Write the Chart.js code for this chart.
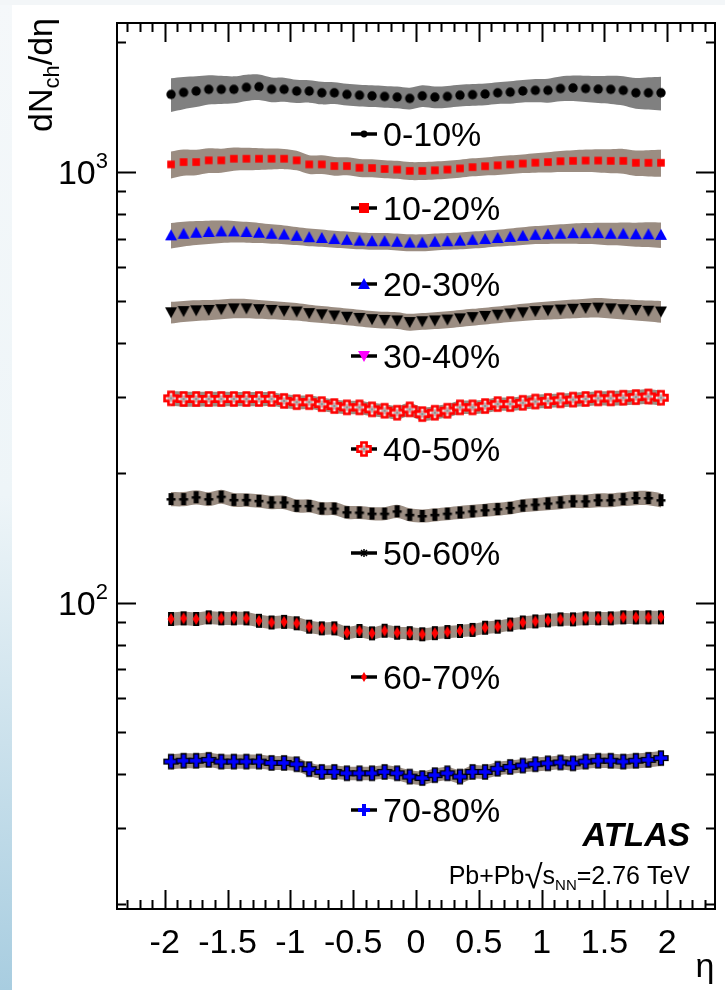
<!DOCTYPE html>
<html>
<head>
<meta charset="utf-8">
<script src="https://cdn.jsdelivr.net/npm/chart.js@4.4.1/dist/chart.umd.min.js"></script>
<style>
  html, body { margin: 0; padding: 0; background: #fff; }
  body { width: 725px; height: 990px; position: relative; overflow: hidden; }
  #strip { position: absolute; left: 0; top: 0; width: 12px; height: 990px;
           background: linear-gradient(#f5f8fa, #eef5f8 50%, #a8cde0); }
  #topstrip { position: absolute; left: 0; top: 0; width: 725px; height: 5px; background: #f3f6f8; }
  #chart { position: absolute; left: 0; top: 0; }
</style>
</head>
<body>
<div id="strip"></div>
<div id="topstrip"></div>
<canvas id="chart" width="725" height="990"></canvas>
<script>
// eta bin centres
const eta = [-1.95, -1.85, -1.75, -1.65, -1.55, -1.45, -1.35, -1.25, -1.15, -1.05,
             -0.95, -0.85, -0.75, -0.65, -0.55, -0.45, -0.35, -0.25, -0.15, -0.05,
              0.05,  0.15,  0.25,  0.35,  0.45,  0.55,  0.65,  0.75,  0.85,  0.95,
              1.05,  1.15,  1.25,  1.35,  1.45,  1.55,  1.65,  1.75,  1.85,  1.95];

// dNch/deta per centrality class
const dn0010 = [1512, 1528, 1539, 1553, 1553, 1553, 1570, 1575, 1553, 1553,
                1539, 1539, 1525, 1525, 1512, 1505, 1500, 1495, 1490, 1480,
                1500, 1490, 1495, 1505, 1510, 1515, 1525, 1530, 1540, 1545,
                1545, 1560, 1565, 1560, 1555, 1553, 1545, 1525, 1525, 1525];
const dn1020 = [1040, 1053, 1053, 1063, 1063, 1072, 1072, 1072, 1072, 1072,
                1063, 1040, 1040, 1031, 1031, 1022, 1020, 1015, 1012, 1005,
                1005, 1008, 1012, 1018, 1025, 1030, 1035, 1040, 1045, 1050,
                1053, 1058, 1060, 1062, 1062, 1060, 1060, 1049, 1049, 1049];
const dn2030 = [712, 718, 722, 725, 727, 727, 725, 722, 718, 715,
                710, 705, 702, 698, 695, 692, 690, 690, 688, 685,
                685, 688, 690, 692, 695, 698, 702, 706, 710, 714,
                716, 718, 720, 720, 720, 718, 718, 716, 716, 714];
const dn3040 = [472, 475, 477, 478, 480, 482, 482, 480, 478, 476,
                474, 470, 467, 464, 461, 458, 455, 453, 452, 448,
                450, 452, 454, 457, 460, 463, 466, 469, 472, 475,
                477, 479, 481, 483, 484, 482, 480, 478, 476, 474];
const dn4050 = [298, 297, 297, 297, 297, 297, 297, 297, 297, 294,
                292, 292, 289, 286, 284, 284, 281, 279, 276, 281,
                274, 276, 279, 284, 284, 286, 289, 289, 291, 293,
                294, 295, 296, 297, 298, 298, 299, 300, 301, 299];
const dn5060 = [174, 174, 175.7, 174, 176.3, 173.3, 173.3, 172.4, 171, 171,
                167.8, 167.8, 165.4, 165.4, 162.2, 162, 161, 161, 163, 160,
                159, 160, 161, 162, 163, 164, 165, 166, 168, 169,
                170, 171, 172, 172, 173, 173, 174, 175, 175, 173];
const dn6070 = [91.7, 92.0, 91.7, 92.5, 92.0, 92.0, 92.0, 90.8, 90.0, 90.3,
                89.6, 88.0, 87.2, 87.2, 85.2, 86.0, 84.9, 86.1, 85.2, 85.0,
                84.5, 85.0, 85.5, 86.0, 86.5, 87.5, 88.0, 89.0, 90.0, 90.5,
                91.0, 91.5, 91.5, 92.0, 92.0, 92.0, 92.5, 92.5, 92.5, 92.5];
const dn7080 = [42.8, 43.0, 43.0, 43.2, 42.8, 42.8, 42.8, 42.8, 42.5, 42.5,
                42.2, 41.1, 40.5, 40.5, 40.2, 40.2, 40.2, 40.5, 40.2, 39.5,
                39.2, 39.8, 40.2, 39.5, 40.5, 40.5, 41.2, 41.6, 41.9, 42.2,
                42.4, 42.6, 42.4, 42.8, 43.0, 43.0, 42.8, 43.0, 43.2, 43.6];

// relative systematic uncertainty vs |eta| (0.05 ... 1.95)
const sys0010 = [.058, .058, .058, .058, .058, .058, .058, .06, .06, .062, .064, .066, .068, .07, .072, .075, .078, .082, .086, .09];
const sys1020 = [.048, .048, .048, .048, .048, .048, .05, .05, .05, .052, .054, .056, .058, .06, .062, .064, .066, .068, .07, .072];
const sys2030 = [.045, .045, .045, .045, .045, .045, .045, .046, .047, .048, .05, .052, .054, .056, .058, .06, .062, .064, .066, .068];
const sys3040 = [.045, .045, .045, .045, .045, .045, .045, .045, .046, .047, .048, .049, .05, .051, .052, .053, .054, .055, .056, .058];
const sys4050 = [.036, .036, .036, .036, .036, .036, .036, .036, .036, .037, .037, .037, .038, .038, .038, .039, .039, .04, .04, .04];
const sys5060 = [.035, .035, .035, .035, .035, .035, .035, .035, .035, .035, .036, .036, .036, .036, .037, .037, .037, .038, .038, .038];
const sys6070 = [.033, .033, .033, .033, .033, .033, .033, .033, .033, .034, .034, .034, .034, .035, .035, .035, .035, .036, .036, .036];
const sys7080 = [.036, .036, .036, .036, .036, .036, .036, .036, .036, .037, .037, .037, .038, .038, .038, .039, .039, .04, .04, .04];

const centralityLabels = ['0-10%', '10-20%', '20-30%', '30-40%', '40-50%', '50-60%', '60-70%', '70-80%'];
const xMajorTicks = [-2, -1.5, -1, -0.5, 0, 0.5, 1, 1.5, 2];
const yMinorTicks = [20, 30, 40, 50, 60, 70, 80, 90, 100, 200, 300, 400, 500, 600, 700, 800, 900, 1000, 2000];
const yLabelTicks = [100, 1000];
const yLabelExp = ['2', '3'];

const FONT = '"Liberation Sans", Arial, Helvetica, sans-serif';

// marker painter, used for data points (as canvas point styles) and the legend
function paintMarker(ctx, kind, cx, cy) {
  ctx.save();
  function plus(a, t) {
    ctx.beginPath();
    ctx.moveTo(cx - t, cy - a); ctx.lineTo(cx + t, cy - a); ctx.lineTo(cx + t, cy - t);
    ctx.lineTo(cx + a, cy - t); ctx.lineTo(cx + a, cy + t); ctx.lineTo(cx + t, cy + t);
    ctx.lineTo(cx + t, cy + a); ctx.lineTo(cx - t, cy + a); ctx.lineTo(cx - t, cy + t);
    ctx.lineTo(cx - a, cy + t); ctx.lineTo(cx - a, cy - t); ctx.lineTo(cx - t, cy - t);
    ctx.closePath();
  }
  switch (kind) {
    case 'dot':
    case 'dotSmall':
      ctx.fillStyle = '#000';
      ctx.beginPath(); ctx.arc(cx, cy, kind === 'dot' ? 4.7 : 3.4, 0, Math.PI * 2); ctx.fill();
      break;
    case 'square':
      ctx.fillStyle = '#ff0000'; ctx.fillRect(cx - 3.8, cy - 3.8, 7.6, 7.6); break;
    case 'squareBig':
      ctx.fillStyle = '#ff0000'; ctx.fillRect(cx - 5, cy - 5, 10, 10); break;
    case 'triUp':
      ctx.fillStyle = '#0000ff';
      ctx.beginPath(); ctx.moveTo(cx, cy - 6); ctx.lineTo(cx + 6, cy + 5); ctx.lineTo(cx - 6, cy + 5); ctx.closePath(); ctx.fill();
      break;
    case 'triDown':
    case 'triDownMagenta':
      ctx.fillStyle = kind === 'triDown' ? '#000' : '#ff00ff';
      ctx.beginPath(); ctx.moveTo(cx, cy + 6); ctx.lineTo(cx + 6, cy - 5); ctx.lineTo(cx - 6, cy - 5); ctx.closePath(); ctx.fill();
      break;
    case 'openCross':
      plus(6.5, 2.6);
      ctx.fillStyle = '#fbeaea'; ctx.fill();
      ctx.strokeStyle = '#ff0000'; ctx.lineWidth = 2.6; ctx.stroke();
      ctx.strokeStyle = '#777'; ctx.lineWidth = 1;
      ctx.beginPath(); ctx.moveTo(cx, cy - 3.5); ctx.lineTo(cx, cy + 3.5); ctx.moveTo(cx - 3.5, cy); ctx.lineTo(cx + 3.5, cy); ctx.stroke();
      break;
    case 'barStar':
      ctx.fillStyle = '#000';
      ctx.fillRect(cx - 2.5, cy - 6, 5, 12);
      ctx.fillRect(cx - 4.5, cy - 1, 9, 2.5);
      break;
    case 'star':
      ctx.strokeStyle = '#000'; ctx.lineWidth = 1.5;
      ctx.beginPath();
      ctx.moveTo(cx - 4, cy); ctx.lineTo(cx + 4, cy);
      ctx.moveTo(cx, cy - 4); ctx.lineTo(cx, cy + 4);
      ctx.moveTo(cx - 3, cy - 3); ctx.lineTo(cx + 3, cy + 3);
      ctx.moveTo(cx + 3, cy - 3); ctx.lineTo(cx - 3, cy + 3);
      ctx.stroke();
      break;
    case 'diamondBar':
      ctx.fillStyle = '#000'; ctx.fillRect(cx - 3, cy - 7, 6, 14);
      ctx.fillStyle = '#ff0000';
      ctx.beginPath(); ctx.moveTo(cx, cy - 6); ctx.lineTo(cx + 3.5, cy); ctx.lineTo(cx, cy + 6); ctx.lineTo(cx - 3.5, cy); ctx.closePath(); ctx.fill();
      break;
    case 'diamond':
      ctx.fillStyle = '#ff0000';
      ctx.beginPath(); ctx.moveTo(cx, cy - 5); ctx.lineTo(cx + 3, cy); ctx.lineTo(cx, cy + 5); ctx.lineTo(cx - 3, cy); ctx.closePath(); ctx.fill();
      break;
    case 'plusOutlined':
      plus(7, 2.4);
      ctx.fillStyle = '#0000ff'; ctx.fill();
      ctx.strokeStyle = '#000'; ctx.lineWidth = 1.4; ctx.stroke();
      break;
    case 'plus':
      plus(6, 2);
      ctx.fillStyle = '#0000ff'; ctx.fill();
      break;
  }
  ctx.restore();
}

function markerCanvas(kind) {
  const c = document.createElement('canvas');
  c.width = 22; c.height = 22;
  paintMarker(c.getContext('2d'), kind, 11, 11);
  return c;
}

const series = [
  { values: dn0010, sys: sys0010, band: '#808080', marker: 'dot',          legendMarker: 'dotSmall' },
  { values: dn1020, sys: sys1020, band: '#9b8d82', marker: 'square',       legendMarker: 'squareBig' },
  { values: dn2030, sys: sys2030, band: '#9b8d82', marker: 'triUp',        legendMarker: 'triUp' },
  { values: dn3040, sys: sys3040, band: '#9b8d82', marker: 'triDown',      legendMarker: 'triDownMagenta' },
  { values: dn4050, sys: sys4050, band: '#9b8d82', marker: 'openCross',    legendMarker: 'openCross' },
  { values: dn5060, sys: sys5060, band: '#9b8d82', marker: 'barStar',      legendMarker: 'star' },
  { values: dn6070, sys: sys6070, band: '#9b8d82', marker: 'diamondBar',   legendMarker: 'diamond' },
  { values: dn7080, sys: sys7080, band: '#9b8d82', marker: 'plusOutlined', legendMarker: 'plus' }
];

// legend rows: pixel rows of the in-plot labels
const legendRowsY = [134, 208, 284, 356, 449, 553, 677, 810];

function relErr(s, i) {
  const k = i < 20 ? 19 - i : i - 20;
  return s.sys[k];
}

const datasets = [];
series.forEach(s => {
  datasets.push({
    data: eta.map((x, i) => ({ x: x, y: s.values[i] * (1 + relErr(s, i)) })),
    borderColor: 'rgba(0,0,0,0)', borderWidth: 0, pointRadius: 0, tension: 0.3,
    fill: false, order: 2
  });
  datasets.push({
    data: eta.map((x, i) => ({ x: x, y: s.values[i] * (1 - relErr(s, i)) })),
    borderColor: 'rgba(0,0,0,0)', borderWidth: 0, pointRadius: 0, tension: 0.3,
    backgroundColor: s.band, fill: '-1', order: 2
  });
  datasets.push({
    data: eta.map((x, i) => ({ x: x, y: s.values[i] })),
    showLine: false, pointStyle: markerCanvas(s.marker), pointRadius: 5,
    pointHoverRadius: 5, order: 1
  });
});

const decorations = {
  id: 'decorations',
  afterDraw(chart) {
    const { ctx, chartArea: a, scales: { x, y } } = chart;
    ctx.save();
    ctx.strokeStyle = '#000';
    ctx.lineWidth = 2;
    ctx.strokeRect(a.left, a.top, a.right - a.left, a.bottom - a.top);

    // inward ticks
    ctx.beginPath();
    for (let k = -23; k <= 23; k++) {
      const v = k / 10;
      const major = k % 5 === 0;
      const px = Math.round(x.getPixelForValue(v)) + 0.5;
      const len = major ? 19 : 9;
      ctx.moveTo(px, a.bottom); ctx.lineTo(px, a.bottom - len);
      ctx.moveTo(px, a.top); ctx.lineTo(px, a.top + len);
    }
    yMinorTicks.forEach(v => {
      const py = Math.round(y.getPixelForValue(v)) + 0.5;
      const len = yLabelTicks.includes(v) ? 19 : 9;
      ctx.moveTo(a.left, py); ctx.lineTo(a.left + len, py);
      ctx.moveTo(a.right, py); ctx.lineTo(a.right - len, py);
    });
    ctx.stroke();

    // y labels 10^n
    ctx.fillStyle = '#000';
    ctx.textBaseline = 'alphabetic';
    ctx.textAlign = 'right';
    yLabelTicks.forEach((v, i) => {
      const py = y.getPixelForValue(v);
      ctx.font = '22px ' + FONT;
      const sw = ctx.measureText(yLabelExp[i]).width;
      ctx.fillText(yLabelExp[i], 108, py - 4);
      ctx.font = '34px ' + FONT;
      ctx.fillText('10', 108 - sw, py + 12);
    });

    // y title dNch/deta (rotated)
    ctx.save();
    ctx.translate(52, 132);
    ctx.rotate(-Math.PI / 2);
    ctx.textAlign = 'left';
    let cx = 0;
    ctx.font = '34px ' + FONT;
    ctx.fillText('dN', cx, 0); cx += ctx.measureText('dN').width;
    ctx.font = '22px ' + FONT;
    ctx.fillText('ch', cx, 7); cx += ctx.measureText('ch').width;
    ctx.font = '34px ' + FONT;
    ctx.fillText('/dη', cx, 0);
    ctx.restore();

    // x title
    ctx.textAlign = 'center';
    ctx.font = '34px ' + FONT;
    ctx.fillText('η', 705, 977);

    // legend
    ctx.textAlign = 'left';
    series.forEach((s, i) => {
      const ly = legendRowsY[i];
      ctx.strokeStyle = '#000';
      ctx.lineWidth = 3.5;
      ctx.beginPath(); ctx.moveTo(351, ly); ctx.lineTo(377, ly); ctx.stroke();
      paintMarker(ctx, s.legendMarker, 364, ly);
      ctx.fillStyle = '#000';
      ctx.font = '34px ' + FONT;
      ctx.fillText(centralityLabels[i], 383, ly + 12);
    });

    // ATLAS label
    ctx.textAlign = 'right';
    ctx.font = 'italic bold 33px ' + FONT;
    ctx.fillText('ATLAS', 690, 846);

    // Pb+Pb sqrt(sNN) = 2.76 TeV
    const big = '25px ' + FONT, small = '15px ' + FONT, root = '33px ' + FONT;
    ctx.font = big;
    const w1 = ctx.measureText('Pb+Pb').width;
    const ws = ctx.measureText('s').width;
    const w3 = ctx.measureText('=2.76 TeV').width;
    ctx.font = root;
    const wr = ctx.measureText('√').width;
    ctx.font = small;
    const wn = ctx.measureText('NN').width;
    let tx = 690 - (w1 + wr + ws + wn + w3);
    const base = 884;
    ctx.textAlign = 'left';
    ctx.font = big;
    ctx.fillText('Pb+Pb', tx, base); tx += w1;
    ctx.font = root;
    ctx.fillText('√', tx, base + 4); tx += wr;
    ctx.font = big;
    ctx.fillText('s', tx, base); tx += ws;
    ctx.font = small;
    ctx.fillText('NN', tx, base + 6); tx += wn;
    ctx.font = big;
    ctx.fillText('=2.76 TeV', tx, base);
    ctx.restore();
  }
};

new Chart(document.getElementById('chart').getContext('2d'), {
  type: 'line',
  data: { datasets: datasets },
  options: {
    responsive: false,
    animation: false,
    devicePixelRatio: 1,
    layout: { padding: { top: 23, right: 10, left: 0, bottom: 0 } },
    plugins: { legend: { display: false }, tooltip: { enabled: false } },
    scales: {
      x: {
        type: 'linear', min: -2.38, max: 2.38,
        grid: { display: false }, border: { display: false },
        afterBuildTicks: s => { s.ticks = xMajorTicks.map(v => ({ value: v })); },
        afterFit: s => { s.height = 81; },
        ticks: {
          color: '#000', padding: 6, maxRotation: 0, autoSkip: false,
          font: { family: FONT, size: 34 },
          callback: v => String(v)
        }
      },
      y: {
        type: 'logarithmic', min: 19.47, max: 2214,
        grid: { display: false }, border: { display: false },
        ticks: { display: false },
        afterFit: s => { s.width = 117; }
      }
    }
  },
  plugins: [decorations]
});
</script>
</body>
</html>
